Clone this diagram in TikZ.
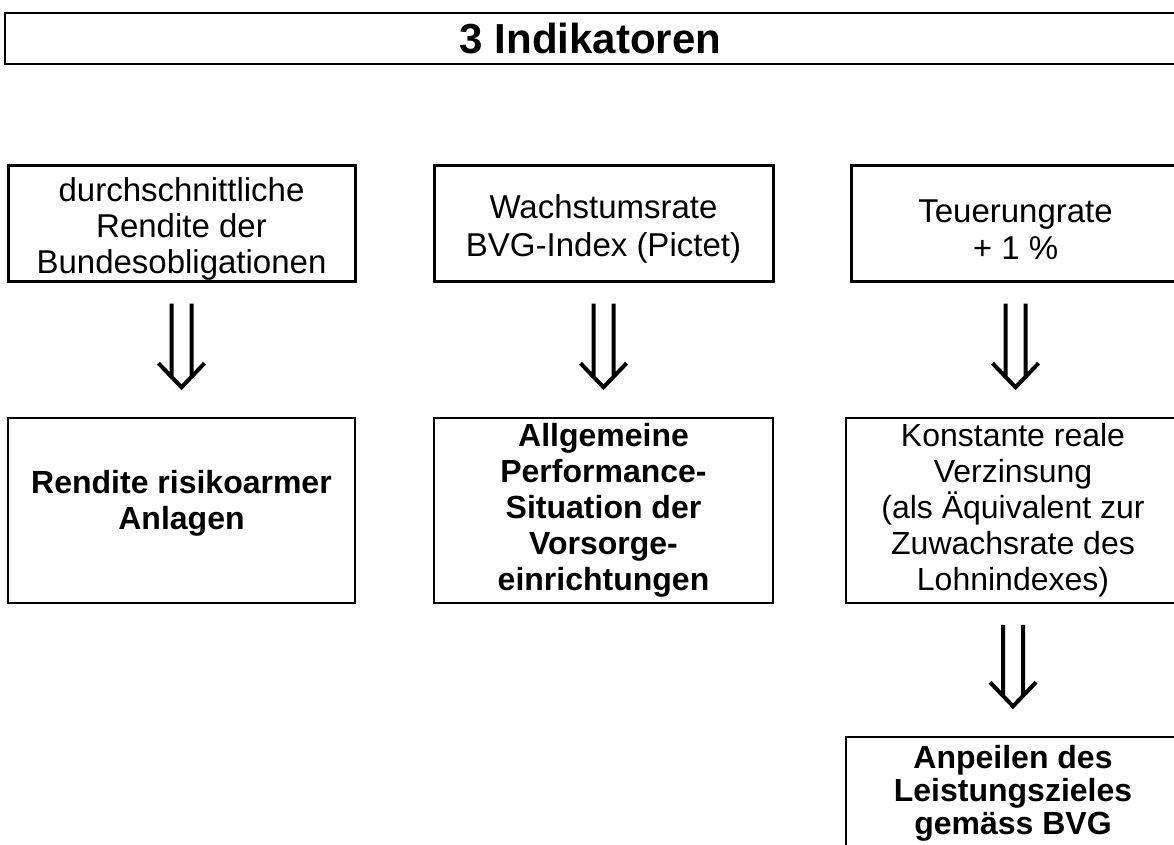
\documentclass[tikz,border=0pt]{standalone}
\usepackage{fontspec}
\setmainfont{Liberation Sans}
\usetikzlibrary{calc}
\newcommand\hstrut{\rule{0pt}{36pt}}
\tikzset{
  hd/.style={draw,line width=2pt,minimum width=1171pt,minimum height=51pt,inner sep=0pt,font=\bfseries\fontsize{42}{46}\selectfont},
  src/.style={draw,line width=3pt,minimum height=116pt,inner sep=0pt,align=center,font=\fontsize{33}{37.5}\selectfont},
  res/.style={draw,line width=1.5pt,minimum height=185pt,inner sep=0pt,align=center,font=\fontsize{32}{36}\selectfont},
  bf/.style={font=\bfseries\fontsize{32}{36}\selectfont},
  dar/.style={line width=4pt,line join=miter,to path={let \p1=(\tikztostart.south),\p2=(\tikztotarget.north) in
    (\x1-10pt,\y1-21pt) -- (\x1-10pt,\y2+40pt) (\x1+10pt,\y1-21pt) -- (\x1+10pt,\y2+40pt)
    (\x1-23pt,\y2+54pt) -- (\x1,\y2+30pt) -- (\x1+23pt,\y2+54pt)}},
}
\begin{document}
\begin{tikzpicture}[x=1pt,y=-1pt]
\useasboundingbox (0,0) rectangle (1174,844);
\node[hd] (t) at (590.5,38.5) {3 Indikatoren};
% Indikatoren
\node[src,minimum width=347pt,font=\fontsize{33}{36.3}\selectfont] (b1) at (181.5,223) {\hstrut durchschnittliche\\Rendite der\\Bundesobligationen};
\node[src,minimum width=339pt] (b2) at (603.5,223) {\hstrut Wachstumsrate\\BVG-Index (Pictet)};
\node[src,minimum width=329pt] (b3) at (1015.5,223) {\hstrut Teuerungrate\\+ 1 \%};
% Bedeutung
\node[res,bf,minimum width=347pt,execute at end node={\rule[-22pt]{0pt}{22pt}}] (r1) at (181.5,510.5) {Rendite risikoarmer\\Anlagen};
\node[res,bf,minimum width=339pt] (r2) at (603.5,510.5) {Allgemeine\\Performance-\\Situation der\\Vorsorge-\\einrichtungen};
\node[res,minimum width=334pt] (r3) at (1013,510.5) {Konstante reale\\Verzinsung\\(als Äquivalent zur\\Zuwachsrate des\\Lohnindexes)};
\node[res,minimum width=334pt,minimum height=113pt,font=\bfseries\fontsize{32}{33}\selectfont] (z) at (1013,793.5) {Anpeilen des\\Leistungszieles\\gemäss BVG};
\draw[dar] (b1) to (r1); \draw[dar] (b2) to (r2); \draw[dar] (b3) to (r3);
\draw[dar] (r3) to (z);
\end{tikzpicture}
\end{document}
